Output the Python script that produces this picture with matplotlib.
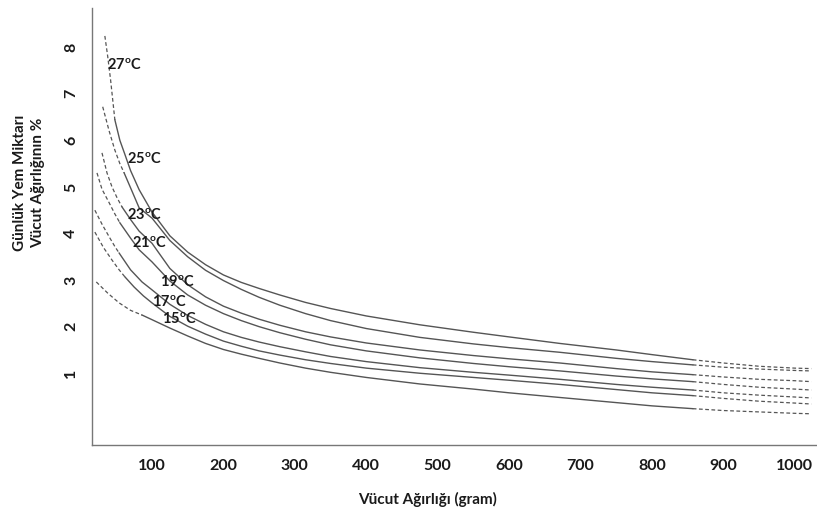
import matplotlib
matplotlib.use("Agg")
import matplotlib.pyplot as plt

plt.rcParams['font.family'] = ['Lato', 'DejaVu Sans']
plt.rcParams['mathtext.fontset'] = 'custom'
plt.rcParams['mathtext.rm'] = 'Lato'
plt.rcParams['mathtext.bf'] = 'Lato:bold'

temps = ["27", "25", "23", "21", "19", "17", "15"]

# left dashed parts (x, y)
dash_left_x = {
    "27": [34, 38, 42, 48],
    "25": [31, 40, 48, 55, 61],
    "23": [30, 37, 44, 51, 58],
    "21": [23, 30, 40, 48, 55],
    "19": [20, 30, 40, 48, 54],
    "17": [20, 32, 44, 54, 62],
    "15": [22, 38, 54, 70, 86],
}
dash_left_y = {
    "27": [8.24, 7.80, 7.30, 6.44],
    "25": [6.72, 6.20, 5.79, 5.50, 5.30],
    "23": [5.73, 5.30, 5.00, 4.77, 4.57],
    "21": [5.30, 4.95, 4.66, 4.42, 4.23],
    "19": [4.50, 4.20, 3.93, 3.72, 3.58],
    "17": [4.03, 3.70, 3.43, 3.22, 3.07],
    "15": [2.96, 2.72, 2.51, 2.35, 2.25],
}

# solid middle parts
solid_x = {
    "27": [48, 55, 62, 70, 82, 100, 125, 150, 175, 200, 225, 250, 279, 315, 350, 400, 475, 550, 600, 671, 750, 800, 857],
    "25": [61, 70, 82, 100, 125, 150, 175, 200, 225, 250, 279, 315, 350, 400, 475, 550, 600, 671, 750, 800, 857],
    "23": [58, 70, 82, 100, 125, 150, 175, 200, 225, 250, 279, 315, 350, 400, 475, 550, 600, 671, 750, 800, 857],
    "21": [55, 70, 82, 100, 125, 150, 175, 200, 225, 250, 279, 315, 350, 400, 475, 550, 600, 671, 750, 800, 857],
    "19": [54, 70, 86, 100, 125, 150, 175, 200, 225, 250, 279, 315, 350, 400, 475, 550, 600, 671, 750, 800, 857],
    "17": [62, 75, 88, 100, 125, 150, 175, 200, 225, 250, 279, 315, 350, 400, 475, 550, 600, 671, 750, 800, 857],
    "15": [86, 100, 125, 150, 175, 200, 225, 250, 279, 315, 350, 400, 475, 550, 600, 671, 750, 800, 857],
}
solid_y = {
    "27": [6.44, 6.00, 5.70, 5.35, 4.94, 4.46, 3.95, 3.60, 3.33, 3.11, 2.95, 2.82, 2.68, 2.52, 2.39, 2.23, 2.04, 1.88, 1.78, 1.64, 1.50, 1.40, 1.29],
    "25": [5.30, 4.98, 4.55, 4.33, 3.85, 3.50, 3.21, 2.99, 2.80, 2.63, 2.46, 2.28, 2.13, 1.96, 1.77, 1.63, 1.55, 1.45, 1.32, 1.25, 1.18],
    "23": [4.57, 4.30, 4.05, 3.79, 3.25, 2.90, 2.64, 2.44, 2.29, 2.16, 2.03, 1.89, 1.78, 1.65, 1.50, 1.38, 1.31, 1.22, 1.10, 1.03, 0.97],
    "21": [4.23, 3.90, 3.65, 3.39, 2.98, 2.68, 2.46, 2.28, 2.13, 2.00, 1.87, 1.73, 1.61, 1.48, 1.33, 1.21, 1.14, 1.05, 0.94, 0.88, 0.82],
    "19": [3.58, 3.22, 2.96, 2.79, 2.48, 2.24, 2.05, 1.89, 1.77, 1.67, 1.57, 1.46, 1.36, 1.25, 1.12, 1.02, 0.96, 0.87, 0.76, 0.70, 0.64],
    "17": [3.07, 2.85, 2.66, 2.51, 2.22, 2.01, 1.84, 1.69, 1.58, 1.48, 1.39, 1.29, 1.21, 1.11, 1.00, 0.91, 0.85, 0.76, 0.65, 0.58, 0.52],
    "15": [2.25, 2.15, 1.97, 1.80, 1.64, 1.51, 1.41, 1.32, 1.22, 1.11, 1.02, 0.91, 0.77, 0.66, 0.58, 0.48, 0.37, 0.30, 0.24],
}

# right dashed parts
dash_right_x = [857, 900, 950, 1000, 1023]
dash_right_y = {
    "27": [1.29, 1.22, 1.15, 1.11, 1.10],
    "25": [1.18, 1.13, 1.09, 1.06, 1.05],
    "23": [0.97, 0.92, 0.87, 0.84, 0.82],
    "21": [0.82, 0.76, 0.70, 0.66, 0.64],
    "19": [0.64, 0.58, 0.53, 0.49, 0.47],
    "17": [0.52, 0.46, 0.40, 0.36, 0.34],
    "15": [0.24, 0.20, 0.17, 0.14, 0.13],
}

label_x = {"27": 62, "25": 89, "23": 90, "21": 97, "19": 135, "17": 125, "15": 138}
label_y = {"27": 7.60, "25": 5.58, "23": 4.38, "21": 3.78, "19": 2.94, "17": 2.53, "15": 2.15}

xticks = [100, 200, 300, 400, 500, 600, 700, 800, 900, 1000]
yticks = [1, 2, 3, 4, 5, 6, 7, 8]

line_color = "#555555"
text_color = "#1a1a1a"

fig = plt.figure(figsize=(8.17, 5.13), dpi=100)
ax = fig.add_axes([92 / 817, 68 / 513, 1 - 92 / 817, (445 - 8) / 513])

for t in temps:
    ax.plot(dash_left_x[t], dash_left_y[t], color=line_color, lw=0.9,
            linestyle=(0, (3, 2)))
    ax.plot(solid_x[t], solid_y[t], color=line_color, lw=1.0, linestyle='-')
    ax.plot(dash_right_x, dash_right_y[t], color=line_color, lw=0.9,
            linestyle=(0, (3, 2)))
    ax.text(label_x[t], label_y[t], r'$\mathbf{' + t + r'^{o}C}$',
            ha='center', va='center', fontsize=10.5, color=text_color)

ax.set_xlim(16, 1031)
ax.set_ylim(-0.54, 8.84)
ax.set_xticks(xticks)
ax.set_xticklabels([str(v) for v in xticks], fontweight='bold', fontsize=11.5)
ax.set_yticks(yticks)
ax.set_yticklabels([str(v) for v in yticks], fontweight='bold', fontsize=11.5,
                   rotation=90, va='center')
ax.tick_params(axis='x', length=0, pad=10, colors=text_color)
ax.tick_params(axis='y', length=0, pad=10, colors=text_color)

for s in ['top', 'right']:
    ax.spines[s].set_visible(False)
for s in ['left', 'bottom']:
    ax.spines[s].set_color('#777777')
    ax.spines[s].set_linewidth(1.0)

fig.text(428 / 817, 1 - 499 / 513, 'Vücut Ağırlığı (gram)', ha='center',
         va='center', fontsize=11, fontweight='bold', color=text_color)
fig.text(29 / 817, 1 - 183 / 513, 'Günlük Yem Miktarı\nVücut Ağırlığının %',
         ha='center', va='center', rotation=90, fontsize=11, fontweight='bold',
         color=text_color, linespacing=1.35)

fig.savefig('out.png', dpi=100)
